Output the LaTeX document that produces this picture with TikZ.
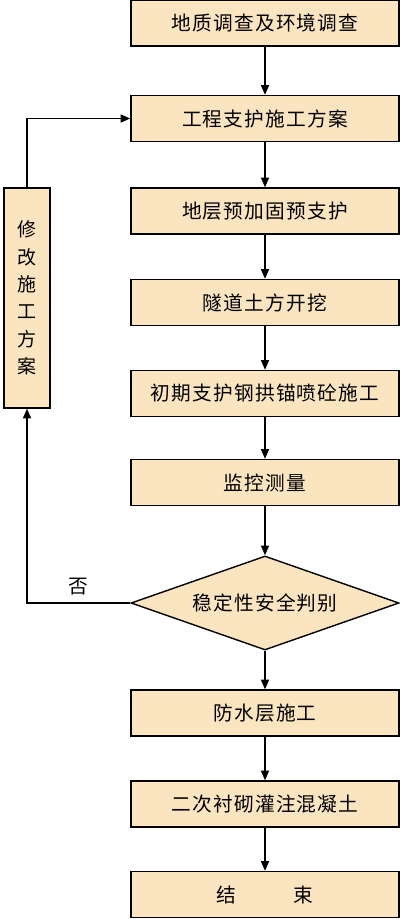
\documentclass[tikz,border=0pt]{standalone}
\usepackage{fontspec}
\usepackage{tikz}
\usetikzlibrary{arrows.meta,positioning,shapes.geometric}
\newfontfamily\cjk{Noto Sans CJK SC}[LetterSpace=6]
\definecolor{tan}{RGB}{251,229,192}

\begin{document}
\begin{tikzpicture}[x=0.025cm, y=-0.025cm,
          stepbox/.style={rectangle,draw=black,line width=1pt,fill=tan,minimum width=6.7cm,minimum height=1.15cm,inner sep=0pt,font=\cjk\fontsize{14}{16}\selectfont},
          judge/.style={diamond,draw=black,line width=1pt,fill=tan,minimum width=6.7cm,minimum height=2.35cm,aspect=2.85,inner sep=0pt,font=\cjk\fontsize{14}{16}\selectfont},
          flow/.style={-{Triangle[width=0.2cm,length=0.24cm]},line width=1pt}
      ]
        \useasboundingbox (0,0) rectangle (400,919);
        \node[stepbox] (survey) at (265,  23)   {地质调查及环境调查};
        \node[stepbox] (plan)   at (265, 118.5) {工程支护施工方案};
        \node[stepbox] (pre)    at (265, 211)   {地层预加固预支护};
        \node[stepbox] (dig)    at (265, 302.5) {隧道土方开挖};
        \node[stepbox] (prim)   at (265, 393.5) {初期支护钢拱锚喷砼施工};
        \node[stepbox] (mon)    at (265, 482.5) {监控测量};
        \node[judge]   (chk)    at (265, 603)   {稳定性安全判别};
        \node[stepbox] (water)  at (265, 713)   {防水层施工};
        \node[stepbox] (lining) at (265, 804)   {二次衬砌灌注混凝土};
        \node[stepbox] (fin)    at (265, 894.5) {结\hspace{2.9em}束};
        \node[stepbox,minimum width=1.15cm,minimum height=5.5cm,align=center,
              font=\cjk\fontsize{13.5}{19.5}\selectfont] (fix) at (27, 298)
              {修\\改\\施\\工\\方\\案};
        \draw[flow] (survey) -- (plan);
        \draw[flow] (plan)   -- (pre);
        \draw[flow] (pre)    -- (dig);
        \draw[flow] (dig)    -- (prim);
        \draw[flow] (prim)   -- (mon);
        \draw[flow] (mon)    -- (chk);
        \draw[flow] (chk)    -- (water);
        \draw[flow] (water)  -- (lining);
        \draw[flow] (lining) -- (fin);
        \draw[flow] (chk.west) -| (fix.south)
              node[pos=0.25,above=2pt,font=\cjk\fontsize{14}{16}\selectfont] {否};
        \draw[flow] (fix.north) |- (plan.west);
      \end{tikzpicture}
\end{document}
